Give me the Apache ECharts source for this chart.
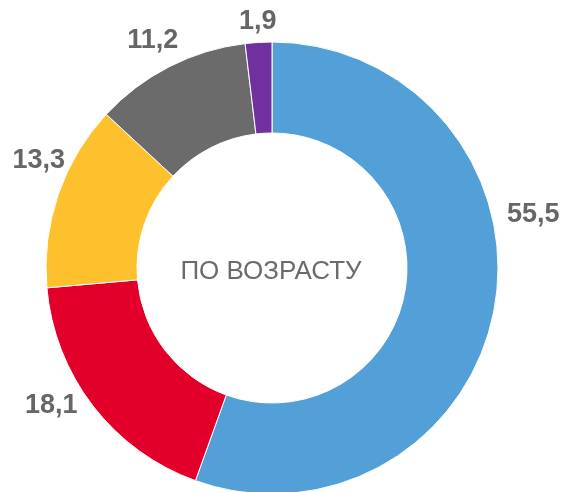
<!DOCTYPE html>
<html>
<head>
<meta charset="utf-8">
<script src="https://cdn.jsdelivr.net/npm/echarts@6/dist/echarts.min.js"></script>
<style>
  html, body { margin: 0; padding: 0; background: #fff; }
  #ageChart { width: 567px; height: 492px; }
</style>
</head>
<body>
<div id="ageChart"></div>
<script>
var ageGroups = ['A', 'B', 'C', 'D', 'E'];
var ageShares = [55.5, 18.1, 13.3, 11.2, 1.9];
var sliceColors = ['#52A0D7', '#E2002B', '#FEC12E', '#6B6B6B', '#7030A0'];
var centerText = 'ПО ВОЗРАСТУ';

// label nudges, to sit the numbers where they are in the original
var labelShift = [[9, -97], [-18, -19], [9, -25], [-3, 1], [1, 9]];

var pieData = ageGroups.map(function (name, i) {
    return { name: name, value: ageShares[i], itemStyle: { color: sliceColors[i] } };
});

var ageChartOption = {
    animation: false,
    textStyle: { fontFamily: 'Liberation Sans, Arial, sans-serif' },
    graphic: [{
        type: 'text',
        x: 271,
        y: 272,
        style: {
            text: centerText,
            fontSize: 26,
            fill: '#6b6b6b',
            align: 'center',
            verticalAlign: 'middle',
            fontFamily: 'Liberation Sans, Arial, sans-serif'
        }
    }],
    series: [
        {
            name: 'ring',
            type: 'pie',
            center: [272, 268],
            radius: [135, 226],
            startAngle: 90,
            silent: true,
            itemStyle: { borderColor: '#fff', borderWidth: 1 },
            label: { show: false },
            labelLine: { show: false },
            data: pieData
        },
        {
            name: 'labels',
            type: 'pie',
            center: [272, 268],
            radius: [226, 280],
            startAngle: 90,
            silent: true,
            avoidLabelOverlap: false,
            itemStyle: { color: 'rgba(0,0,0,0)' },
            label: {
                show: true,
                position: 'inside',
                formatter: function (p) { return String(p.value).replace('.', ','); },
                fontSize: 27,
                fontWeight: 'bold',
                color: '#666',
                fontFamily: 'Liberation Sans, Arial, sans-serif'
            },
            labelLine: { show: false },
            labelLayout: function (params) {
                var s = labelShift[params.dataIndex];
                return { dx: s[0], dy: s[1] };
            },
            data: ageShares.map(function (v, i) { return { name: ageGroups[i], value: v }; })
        }
    ]
};

var dom = document.getElementById('ageChart');
var ageChart = echarts.init(dom);
ageChart.setOption(ageChartOption);

window.onresize = ageChart.resize;
</script>
</body>
</html>
